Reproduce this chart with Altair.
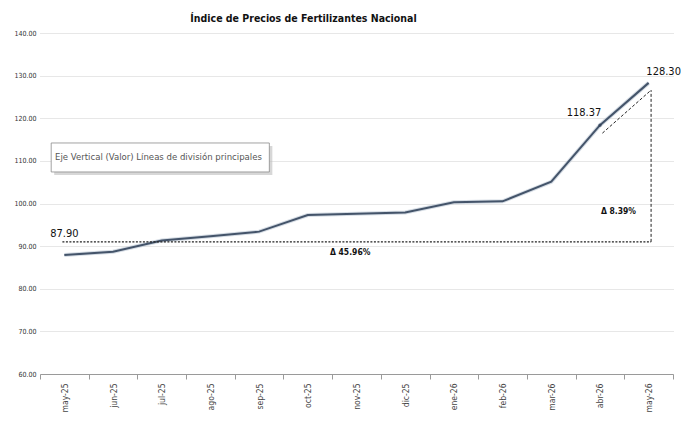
import json
import altair as alt
import pandas as pd

months = ["may-25", "jun-25", "jul-25", "ago-25", "sep-25", "oct-25", "nov-25",
          "dic-25", "ene-26", "feb-26", "mar-26", "abr-26", "may-26"]
values = [87.90, 88.70, 91.30, 92.30, 93.40, 97.30, 97.60, 97.90, 100.30, 100.50,
          105.10, 118.37, 128.30]

title_text = "Índice de Precios de Fertilizantes Nacional"
tooltip_text = "Eje Vertical (Valor)  Líneas de división principales"

# labelled points (index, value, label)
label_idx = [0, 11, 12]
label_txt = ["87.90", "118.37", "128.30"]

# annotation geometry in data units
h_line = {"x": [-0.04], "x2": [12.05], "y": [91.0]}
v_line = {"x": [12.05], "y": [91.0], "y2": [126.6]}
diag_x = [12.05, 11.05]
diag_y = [126.6, 116.5]
delta_x = [5.87, 11.38]
delta_y = [88.6, 98.2]
delta_txt = ["Δ 45.96%", "Δ 8.39%"]
box = {"x": [-0.27], "x2": [4.21], "y": [114.2], "y2": [107.4]}
box_text_pos = {"x": [-0.19], "y": [110.8]}

FONT = "DejaVu Sans Condensed, Liberation Sans Narrow, Arial Narrow, sans-serif"

df = pd.DataFrame({"i": list(range(len(months))), "mes": months, "valor": values})
lab = pd.DataFrame({"i": label_idx, "valor": [values[k] for k in label_idx], "t": label_txt})

xscale = alt.Scale(domain=[-0.5, len(months) - 0.5], nice=False, zero=False)
yscale = alt.Scale(domain=[60, 140], nice=False, zero=False)

tick_vals = [k - 0.5 for k in range(len(months) + 1)]
label_expr = "(" + json.dumps(months) + ")[round(datum.value + 0.5)] || ''"

x_axis = alt.Axis(values=tick_vals, labelExpr=label_expr, labelAngle=270,
                  labelOffset=633 / len(months) / 2, grid=False, title=None,
                  domainColor="#9a9a9a", tickColor="#9a9a9a", tickSize=5,
                  labelFont=FONT, labelFontSize=8.5, labelColor="#444444",
                  labelPadding=4)
y_axis = alt.Axis(values=list(range(60, 141, 10)), format=".2f", title=None,
                  ticks=False, domain=False, grid=True, gridColor="#cfcfcf",
                  gridDash=[1, 1], labelFont=FONT, labelFontSize=7,
                  labelColor="#333333", labelPadding=4)

base = alt.Chart(df)

shadow = base.mark_line(color="#b9c4d2", strokeWidth=4, opacity=0.6).encode(
    x=alt.X("i:Q", scale=xscale, axis=x_axis),
    y=alt.Y("valor:Q", scale=yscale, axis=y_axis),
)
line = base.mark_line(color="#44546a", strokeWidth=2).encode(
    x=alt.X("i:Q", scale=xscale),
    y=alt.Y("valor:Q", scale=yscale),
)
point = alt.Chart(df[df["i"] == 11]).mark_point(filled=True, size=12, color="#2f3e55").encode(
    x="i:Q", y="valor:Q")

hline = alt.Chart(pd.DataFrame(h_line)).mark_rule(color="#222222", strokeDash=[2, 1.5], strokeWidth=1.3).encode(
    x="x:Q", x2="x2:Q", y="y:Q")
vline = alt.Chart(pd.DataFrame(v_line)).mark_rule(color="#222222", strokeDash=[3, 2], strokeWidth=1).encode(
    x="x:Q", y="y:Q", y2="y2:Q")
dline = alt.Chart(pd.DataFrame({"x": diag_x, "y": diag_y})).mark_line(
    color="#222222", strokeDash=[3, 2], strokeWidth=1).encode(x="x:Q", y="y:Q")

lab_first = alt.Chart(lab[lab["i"] == 0]).mark_text(
    font=FONT, fontSize=11, color="#111111", dy=-21, dx=0).encode(
    x="i:Q", y="valor:Q", text="t:N")
lab_mid = alt.Chart(lab[lab["i"] == 11]).mark_text(
    font=FONT, fontSize=11, color="#111111", dy=-12, dx=-16).encode(
    x="i:Q", y="valor:Q", text="t:N")
lab_last = alt.Chart(lab[lab["i"] == 12]).mark_text(
    font=FONT, fontSize=11, color="#111111", dy=-11, dx=15).encode(
    x="i:Q", y="valor:Q", text="t:N")

deltas = alt.Chart(pd.DataFrame({"x": delta_x, "y": delta_y, "t": delta_txt})).mark_text(
    font=FONT, fontSize=8.5, fontWeight="bold", color="#111111").encode(
    x="x:Q", y="y:Q", text="t:N")

box_shadow = alt.Chart(pd.DataFrame(box)).mark_rect(
    fill="#bdbdbd", opacity=0.6, xOffset=3, yOffset=3, x2Offset=3, y2Offset=3).encode(
    x="x:Q", x2="x2:Q", y="y:Q", y2="y2:Q")
box_rect = alt.Chart(pd.DataFrame(box)).mark_rect(
    fill="white", stroke="#8a8a8a", strokeWidth=0.8).encode(
    x="x:Q", x2="x2:Q", y="y:Q", y2="y2:Q")
box_text = alt.Chart(pd.DataFrame({**box_text_pos, "t": [tooltip_text]})).mark_text(
    font=FONT, fontSize=9.5, color="#555555", align="left").encode(
    x="x:Q", y="y:Q", text="t:N")

chart = alt.layer(
    shadow, line, point, hline, vline, dline,
    lab_first, lab_mid, lab_last, deltas,
    box_shadow, box_rect, box_text,
).properties(
    width=633, height=341,
    title=alt.TitleParams(title_text, font=FONT, fontSize=10.5, fontWeight="bold",
                          color="#111111", anchor="middle", dx=-53, offset=5),
    autosize="none",
    padding={"left": 32, "top": 25, "right": 10, "bottom": 39},
).configure_view(stroke=None)

chart.save("out.html", embed_options={"renderer": "svg", "actions": False})
